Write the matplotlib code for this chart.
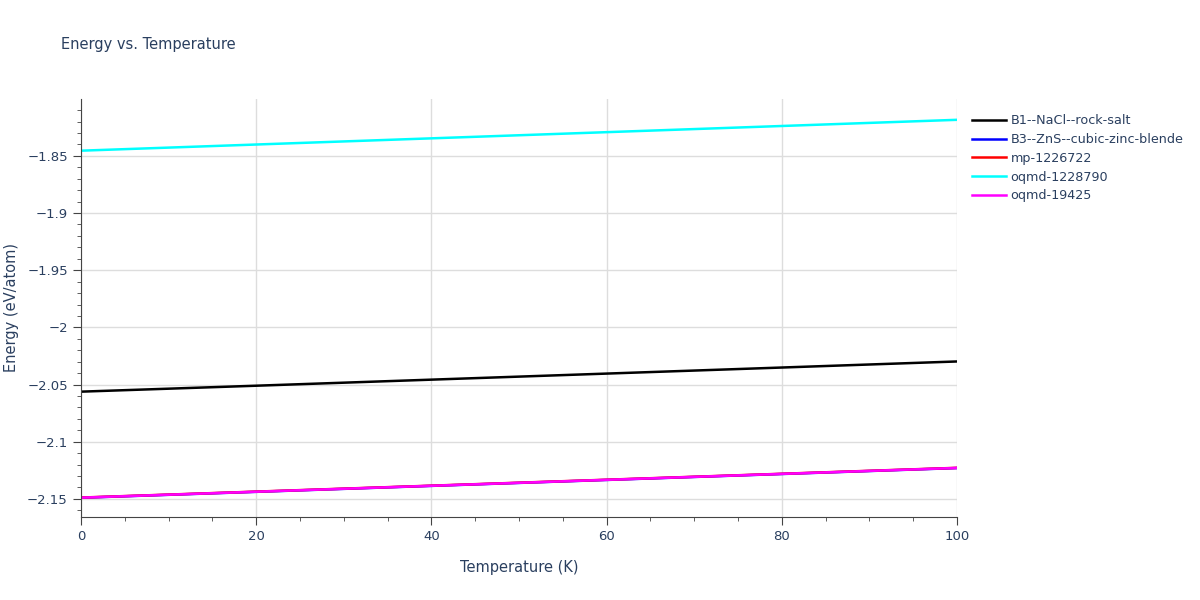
import matplotlib
matplotlib.use("Agg")
import matplotlib.pyplot as plt
from matplotlib.ticker import MultipleLocator, FuncFormatter

temps = [0, 20, 40, 60, 80, 100]
names = ["B1--NaCl--rock-salt", "B3--ZnS--cubic-zinc-blende", "mp-1226722", "oqmd-1228790", "oqmd-19425"]
colors = ["black", "blue", "red", "cyan", "magenta"]
series = {
    "B1--NaCl--rock-salt": [-2.0562, -2.0510, -2.0457, -2.0404, -2.0351, -2.0298],
    "B3--ZnS--cubic-zinc-blende": [-2.1490, -2.1438, -2.1386, -2.1334, -2.1282, -2.1230],
    "mp-1226722": [-2.1488, -2.1436, -2.1384, -2.1332, -2.1280, -2.1228],
    "oqmd-1228790": [-1.8455, -1.8401, -1.8347, -1.8293, -1.8239, -1.8185],
    "oqmd-19425": [-2.1489, -2.1437, -2.1385, -2.1333, -2.1281, -2.1229],
}

fig = plt.figure(figsize=(12, 6), dpi=100)
ax = fig.add_axes([81/1200, 1-517/600, 876/1200, 418/600])
for n, c in zip(names, colors):
    ax.plot(temps, series[n], color=c, lw=1.8, label=n)
ax.set_xlim(0, 100)
ax.set_ylim(-2.1658, -1.8003)
ax.xaxis.set_major_locator(MultipleLocator(20))
ax.xaxis.set_minor_locator(MultipleLocator(5))
ax.yaxis.set_major_locator(MultipleLocator(0.05))
ax.yaxis.set_minor_locator(MultipleLocator(0.01))
ax.grid(True, which="major", color="#dddddd", lw=1)
for s in ["top", "right"]:
    ax.spines[s].set_visible(False)
for s in ["left", "bottom"]:
    ax.spines[s].set_color("#444444")
tc = "#2a3f5f"
ax.tick_params(which="both", colors="#444444", labelcolor=tc, labelsize=9.5)
ax.tick_params(which="major", length=6)
ax.tick_params(which="minor", length=3)
ax.yaxis.set_major_formatter(FuncFormatter(lambda v, p: ("%g" % round(v, 2)).replace("-", "\u2212")))
ax.set_xlabel("Temperature (K)", color=tc, fontsize=10.5, labelpad=12)
ax.set_ylabel("Energy (eV/atom)", color=tc, fontsize=10.5, labelpad=6)
fig.text(61/1200, 1-45/600, "Energy vs. Temperature", color=tc, fontsize=10.5, va="center")
leg = ax.legend(loc="upper left", bbox_to_anchor=(1.0, 1.0), frameon=False, fontsize=9.2,
                handlelength=2.6, handletextpad=0.4, labelspacing=0.45, borderaxespad=0.8)
for t in leg.get_texts():
    t.set_color(tc)
fig.savefig("out.png")
